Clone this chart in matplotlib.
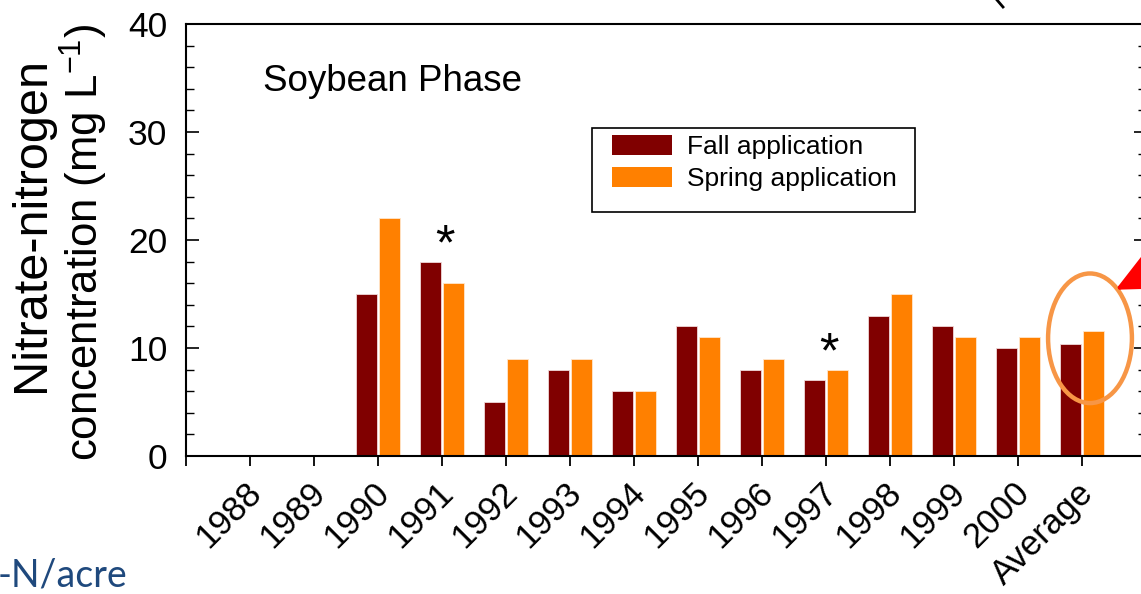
import matplotlib
matplotlib.use('Agg')
import matplotlib.pyplot as plt
import numpy as np
from matplotlib.patches import Ellipse, FancyArrowPatch, Rectangle
from matplotlib.lines import Line2D
from matplotlib.ticker import MultipleLocator
import matplotlib.transforms as mtransforms

# ---- data ----
years = ['1988', '1989', '1990', '1991', '1992', '1993', '1994', '1995',
         '1996', '1997', '1998', '1999', '2000', 'Average']
fall = [np.nan, np.nan, 15, 18, 5, 8, 6, 12, 8, 7, 13, 12, 10, 10.4]
spring = [np.nan, np.nan, 22, 16, 9, 9, 6, 11, 9, 8, 15, 11, 11, 11.6]
significant = ['1991', '1997']
series_labels = ['Fall application', 'Spring application']

plt.rcParams['font.family'] = ['Liberation Sans', 'DejaVu Sans']
plt.rcParams['mathtext.default'] = 'regular'

W, H = 1141, 594
fig = plt.figure(figsize=(W / 100, H / 100), dpi=100)
ax = fig.add_axes([186 / W, (H - 456) / H, (1146 - 186) / W, (456 - 24) / H])

x = np.arange(len(years))
bw, off = 0.33, 0.185
ax.bar(x - off, fall, bw, color='#800000', edgecolor='#f0d8d8', linewidth=0.6,
       label=series_labels[0])
ax.bar(x + off, spring, bw, color='#FF8000', edgecolor='#ffe6cc', linewidth=0.6,
       label=series_labels[1])

ax.set_xlim(-1, 14)
ax.set_ylim(0, 40)
ax.set_xticks(np.arange(-1, 15))
ax.set_xticklabels([''] + years + [''])
ax.yaxis.set_major_locator(MultipleLocator(10))
ax.yaxis.set_minor_locator(MultipleLocator(2))

for s in ax.spines.values():
    s.set_linewidth(1.5)

ax.tick_params(axis='x', direction='out', length=7, width=1.3, labelsize=25, pad=16)
ax.tick_params(axis='y', which='major', direction='in', length=9, width=1.2,
               labelsize=25.5, pad=13.5, right=True, left=True)
ax.tick_params(axis='y', which='minor', direction='in', length=5.5, width=1.0,
               right=True, left=True)

shift = mtransforms.ScaledTranslation(6 / 100, 0, fig.dpi_scale_trans)
for lbl in ax.get_xticklabels():
    lbl.set_rotation(45)
    lbl.set_ha('right')
    lbl.set_va('center')
    lbl.set_rotation_mode('anchor')
    lbl.set_transform(lbl.get_transform() + shift)

# asterisks for significant years
for yr in significant:
    i = years.index(yr)
    top = np.nanmax([fall[i], spring[i]])
    ax.text(i + 0.05, top + 1.4, '*', ha='center', va='center', fontsize=36)

# legend (frame drawn separately)
leg = ax.legend(loc='upper left', bbox_to_anchor=(592 / W, 1 - 115 / H),
                bbox_transform=fig.transFigure, borderaxespad=0, fontsize=19,
                handlelength=2.3, handleheight=0.8, handletextpad=0.55,
                borderpad=0.75, labelspacing=0.3, frameon=False)
for h in leg.legend_handles:
    h.set_linewidth(0)
fig.add_artist(Rectangle((592 / W, 1 - 212 / H), (915 - 592) / W, (212 - 128) / H,
                         transform=fig.transFigure, fill=False,
                         edgecolor='black', linewidth=1.2))

# title text
fig.text(263 / W, 1 - 91 / H, 'Soybean Phase', fontsize=26.5, va='baseline')

# y label (two lines)
fig.text(9 / W, 1 - 224 / H, 'Nitrate-nitrogen', rotation=90, fontsize=35,
         ha='left', va='center')
fig.text(58 / W, 1 - 242 / H, 'concentration (mg L$^{-1}$)', rotation=90,
         fontsize=31.5, ha='left', va='center')

# ellipse around the average
ia = years.index('Average')
ax.add_patch(Ellipse((ia + 0.125, 10.9), 1.31, 12.0, fill=False,
                     edgecolor='#F79646', linewidth=3.2, clip_on=False))

# red arrow
arr = FancyArrowPatch((1190 / W, 1 - 252 / H), (1113 / W, 1 - 291 / H),
                      transform=fig.transFigure,
                      arrowstyle='-|>,head_length=0.7,head_width=0.33',
                      mutation_scale=40, color='#FF0000', linewidth=3)
fig.add_artist(arr)

# slide fragments
fig.add_artist(Line2D([997 / W, 1003 / W], [1.0, 1 - 7 / H], color='black',
                      linewidth=2, transform=fig.transFigure))
fig.text(-2 / W, 1 - 587 / H, '-N/acre', fontsize=27, family=['Lato', 'DejaVu Sans'],
         color='#1F497D', va='baseline')

fig.savefig('out.png', dpi=100)
